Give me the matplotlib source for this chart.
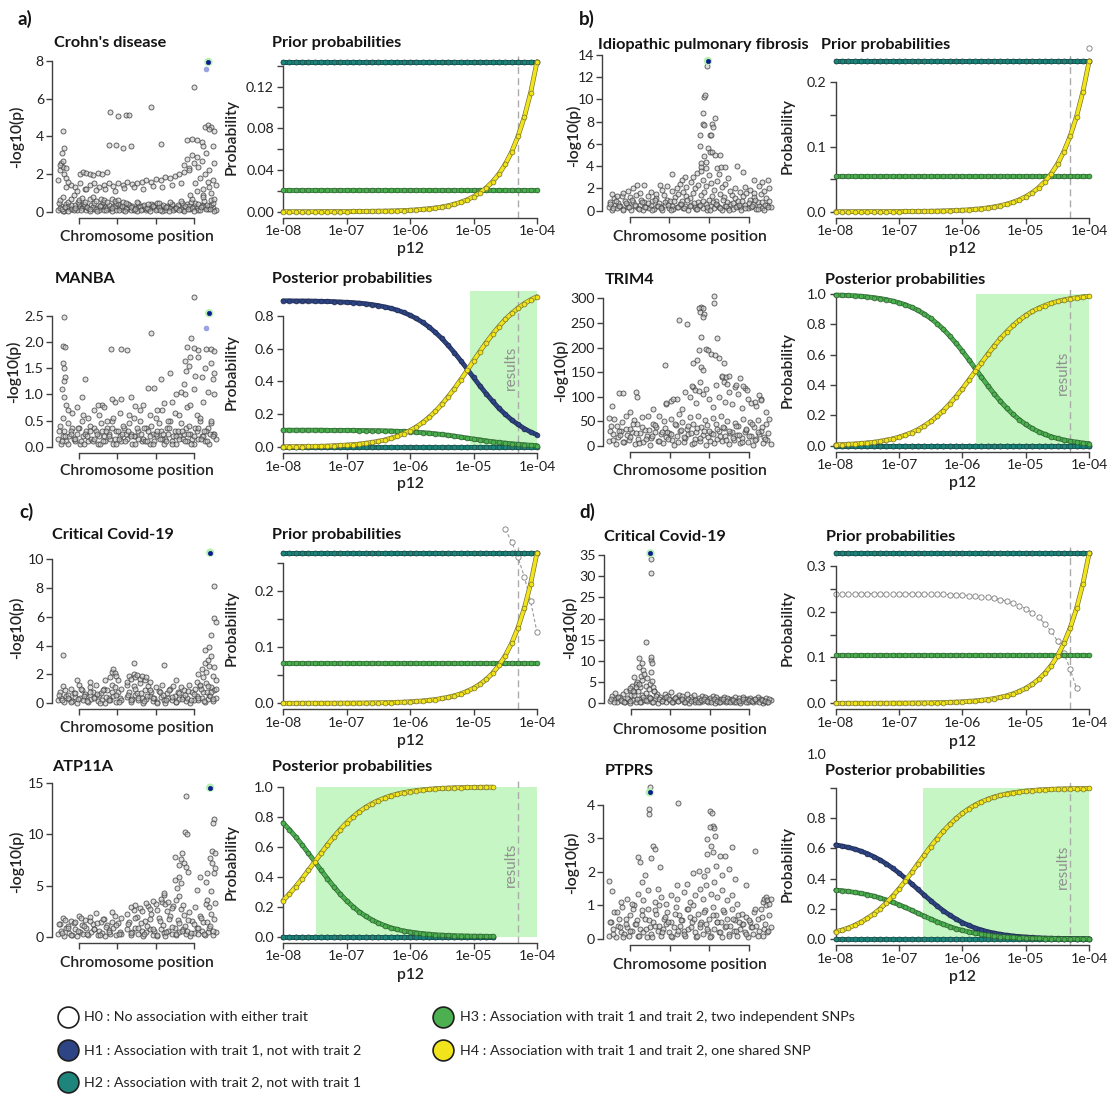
import numpy as np
import matplotlib
matplotlib.use("Agg")
import matplotlib.pyplot as plt
from matplotlib import font_manager
from matplotlib.patches import Rectangle

nan = float("nan")

# ------------------------------------------------------------------ data ----
# p12 values (log10) at which the priors / posteriors are evaluated
LOG_P12 = [-8.0, -7.9, -7.8, -7.7, -7.6, -7.5, -7.4, -7.3, -7.2, -7.1,
           -7.0, -6.9, -6.8, -6.7, -6.6, -6.5, -6.4, -6.3, -6.2, -6.1,
           -6.0, -5.9, -5.8, -5.7, -5.6, -5.5, -5.4, -5.3, -5.2, -5.1,
           -5.0, -4.9, -4.8, -4.7, -4.6, -4.5, -4.4, -4.3, -4.2, -4.1, -4.0]
P12_TICKS = [1e-8, 1e-7, 1e-6, 1e-5, 1e-4]
P12_TICK_LABELS = ["1e-08", "1e-07", "1e-06", "1e-05", "1e-04"]
P12_RESULT = 5e-5

# ---- a) Crohn's disease / MANBA
A_PRIOR_H12 = 0.1438
A_PRIOR_H3 = 0.0207
A_PRIOR_H4 = [0.0000, 0.0000, 0.0000, 0.0000, 0.0000, 0.0000, 0.0001, 0.0001, 0.0001, 0.0001,
              0.0001, 0.0002, 0.0002, 0.0003, 0.0004, 0.0005, 0.0006, 0.0007, 0.0009, 0.0011,
              0.0014, 0.0018, 0.0023, 0.0029, 0.0036, 0.0045, 0.0057, 0.0072, 0.0091, 0.0114,
              0.0144, 0.0181, 0.0228, 0.0287, 0.0361, 0.0455, 0.0572, 0.0721, 0.0907, 0.1142, 0.1438]
A_POST_H1 = [0.892, 0.892, 0.891, 0.891, 0.891, 0.890, 0.889, 0.888, 0.887, 0.885,
             0.883, 0.881, 0.878, 0.874, 0.869, 0.863, 0.855, 0.846, 0.835, 0.821,
             0.804, 0.784, 0.760, 0.732, 0.699, 0.662, 0.620, 0.575, 0.526, 0.476,
             0.424, 0.373, 0.325, 0.279, 0.236, 0.199, 0.165, 0.137, 0.112, 0.091, 0.074]
A_POST_H3 = [0.102, 0.102, 0.102, 0.102, 0.102, 0.102, 0.102, 0.101, 0.101, 0.101,
             0.101, 0.101, 0.100, 0.100, 0.099, 0.099, 0.098, 0.097, 0.095, 0.094,
             0.092, 0.090, 0.087, 0.084, 0.080, 0.076, 0.071, 0.066, 0.060, 0.054,
             0.048, 0.043, 0.037, 0.032, 0.027, 0.023, 0.019, 0.016, 0.013, 0.010, 0.008]
A_POST_H4 = [0.001, 0.001, 0.002, 0.002, 0.003, 0.003, 0.004, 0.005, 0.007, 0.009,
             0.011, 0.014, 0.017, 0.022, 0.027, 0.034, 0.042, 0.053, 0.065, 0.081,
             0.100, 0.122, 0.149, 0.181, 0.217, 0.259, 0.306, 0.356, 0.411, 0.467,
             0.525, 0.582, 0.637, 0.688, 0.735, 0.778, 0.815, 0.847, 0.875, 0.898, 0.917]
A_RESULTS_FROM = -5.06

# ---- b) Idiopathic pulmonary fibrosis / TRIM4
B_PRIOR_H12 = 0.233
B_PRIOR_H3 = 0.0556
B_PRIOR_H4 = [0.0000, 0.0000, 0.0000, 0.0000, 0.0001, 0.0001, 0.0001, 0.0001, 0.0001, 0.0002,
              0.0002, 0.0003, 0.0004, 0.0005, 0.0006, 0.0007, 0.0009, 0.0012, 0.0015, 0.0019,
              0.0023, 0.0029, 0.0037, 0.0046, 0.0059, 0.0074, 0.0093, 0.0117, 0.0147, 0.0185,
              0.0233, 0.0293, 0.0369, 0.0465, 0.0585, 0.0737, 0.0928, 0.1168, 0.1470, 0.1851, 0.2330]
B_PRIOR_H0_LOG = [-4.0]
B_PRIOR_H0 = [0.2525]
B_POST_H3 = [0.992, 0.991, 0.989, 0.987, 0.984, 0.980, 0.975, 0.969, 0.962, 0.952,
             0.941, 0.928, 0.911, 0.891, 0.866, 0.838, 0.804, 0.766, 0.722, 0.674,
             0.622, 0.567, 0.509, 0.452, 0.396, 0.342, 0.292, 0.247, 0.206, 0.171,
             0.140, 0.114, 0.093, 0.075, 0.060, 0.048, 0.038, 0.030, 0.024, 0.018, 0.014]
B_POST_H4 = [0.006, 0.008, 0.010, 0.012, 0.015, 0.019, 0.023, 0.029, 0.037, 0.046,
             0.057, 0.071, 0.087, 0.107, 0.132, 0.160, 0.194, 0.232, 0.276, 0.324,
             0.376, 0.432, 0.489, 0.546, 0.602, 0.656, 0.706, 0.751, 0.792, 0.827,
             0.858, 0.884, 0.905, 0.923, 0.938, 0.950, 0.960, 0.968, 0.974, 0.980, 0.984]
B_RESULTS_FROM = -5.78

# ---- c) Critical Covid-19 / ATP11A
C_PRIOR_H12 = 0.2675
C_PRIOR_H3 = 0.071
C_PRIOR_H4 = [0.0000, 0.0000, 0.0000, 0.0001, 0.0001, 0.0001, 0.0001, 0.0001, 0.0002, 0.0002,
              0.0003, 0.0003, 0.0004, 0.0005, 0.0007, 0.0008, 0.0011, 0.0013, 0.0017, 0.0021,
              0.0027, 0.0034, 0.0042, 0.0053, 0.0067, 0.0085, 0.0106, 0.0134, 0.0169, 0.0212,
              0.0268, 0.0337, 0.0424, 0.0534, 0.0672, 0.0846, 0.1065, 0.1341, 0.1688, 0.2125, 0.2675]
C_PRIOR_H0_LOG = [-4.5, -4.4, -4.3, -4.2, -4.1, -4.0]
C_PRIOR_H0 = [0.309, 0.287, 0.2595, 0.2248, 0.1811, 0.1261]
C_POST_H3 = [0.760, 0.715, 0.666, 0.613, 0.557, 0.500, 0.443, 0.387, 0.334, 0.285,
             0.240, 0.201, 0.166, 0.137, 0.112, 0.091, 0.074, 0.059, 0.048, 0.038,
             0.031, 0.025, 0.020, 0.016, 0.012, 0.010, 0.008, 0.006, 0.005, 0.004,
             0.003, 0.003, 0.002, 0.002, nan, nan, nan, nan, nan, nan, nan]
C_POST_H4 = [0.240, 0.285, 0.334, 0.387, 0.443, 0.500, 0.557, 0.613, 0.666, 0.715,
             0.760, 0.799, 0.834, 0.863, 0.888, 0.909, 0.926, 0.941, 0.952, 0.962,
             0.969, 0.975, 0.980, 0.984, 0.988, 0.990, 0.992, 0.994, 0.995, 0.996,
             0.997, 0.997, 0.998, 0.998, nan, nan, nan, nan, nan, nan, nan]
C_RESULTS_FROM = -7.48

# ---- d) Critical Covid-19 / PTPRS
D_PRIOR_H12 = 0.3277
D_PRIOR_H3 = 0.1055
D_PRIOR_H4 = [0.0000, 0.0000, 0.0001, 0.0001, 0.0001, 0.0001, 0.0001, 0.0002, 0.0002, 0.0003,
              0.0003, 0.0004, 0.0005, 0.0007, 0.0008, 0.0010, 0.0013, 0.0016, 0.0021, 0.0026,
              0.0033, 0.0041, 0.0052, 0.0065, 0.0082, 0.0104, 0.0130, 0.0164, 0.0207, 0.0260,
              0.0328, 0.0413, 0.0519, 0.0654, 0.0823, 0.1036, 0.1305, 0.1642, 0.2068, 0.2603, 0.3277]
D_PRIOR_H0 = [0.2391, 0.2391, 0.2391, 0.2390, 0.2390, 0.2390, 0.2390, 0.2389, 0.2389, 0.2388,
              0.2388, 0.2387, 0.2386, 0.2384, 0.2383, 0.2381, 0.2378, 0.2375, 0.2370, 0.2365,
              0.2358, 0.2350, 0.2339, 0.2326, 0.2309, 0.2287, 0.2261, 0.2227, 0.2184, 0.2131,
              0.2063, 0.1978, 0.1872, 0.1737, 0.1568, 0.1355, 0.1086, 0.0749, 0.0323, nan, nan]
D_POST_H1 = [0.624, 0.616, 0.607, 0.596, 0.582, 0.566, 0.546, 0.524, 0.498, 0.469,
             0.437, 0.402, 0.365, 0.328, 0.290, 0.254, 0.219, 0.187, 0.158, 0.132,
             0.109, 0.090, 0.073, 0.060, 0.048, 0.039, 0.031, 0.025, 0.020, 0.016,
             0.013, 0.010, 0.008, 0.006, 0.005, 0.004, 0.003, 0.003, 0.002, 0.002, 0.001]
D_POST_H3 = [0.324, 0.320, 0.315, 0.309, 0.302, 0.294, 0.284, 0.272, 0.258, 0.243,
             0.227, 0.209, 0.190, 0.170, 0.151, 0.132, 0.114, 0.097, 0.082, 0.068,
             0.057, 0.047, 0.038, 0.031, 0.025, 0.020, 0.016, 0.013, 0.010, 0.008,
             0.007, 0.005, 0.004, 0.003, 0.003, 0.002, 0.002, 0.001, 0.001, 0.001, 0.001]
D_POST_H4 = [0.048, 0.059, 0.073, 0.091, 0.112, 0.137, 0.166, 0.200, 0.240, 0.284,
             0.333, 0.386, 0.442, 0.500, 0.557, 0.613, 0.666, 0.715, 0.759, 0.799,
             0.833, 0.863, 0.888, 0.909, 0.926, 0.941, 0.952, 0.962, 0.969, 0.975,
             0.980, 0.984, 0.988, 0.990, 0.992, 0.994, 0.995, 0.996, 0.997, 0.997, 0.998]
D_RESULTS_FROM = -6.63

# ---- regional association points: (position along window 0-100, -log10 p)
CHR_TICKS = [13, 37.5, 62, 86.5]

A1_SNPS = [
    (0,.1),(2,.3),(4,.05),(5,.4),(7,.2),(9,.15),(11,.35),(12,.1),(14,.25),(16,.3),(18,.1),(19,.2),(21,.35),(23,.15),(25,.2),(26,.1),(28,.3),(30,.25),(32,.15),(33,.2),(35,.3),(37,.1),(39,.25),(40,.2),(42,.3),(44,.15),(46,.1),(47,.3),(49,.2),(51,.25),(53,.15),(54,.3),(56,.1),(58,.2),(60,.35),(61,.25),(63,.15),(65,.3),(67,.2),(68,.1),(70,.25),(72,.35),(74,.15),(75,.2),(77,.3),(79,.1),(81,.25),(82,.4),(84,.15),(86,.3),(88,.2),(89,.1),(91,.35),(93,.25),(95,.15),(96,.3),(98,.2),(100,.1),
    (1,.2),(3,.05),(6,.3),(8,.15),(10,.1),(13,.4),(15,.2),(17,.3),(20,.05),(22,.25),(24,.15),(27,.35),(29,.1),(31,.2),(34,.05),(36,.3),(38,.4),(41,.1),(43,.2),(45,.35),(48,.1),(50,.05),(52,.3),(55,.2),(57,.15),(59,.4),(62,.1),(64,.25),(66,.05),(69,.3),(71,.2),(73,.1),(76,.35),(78,.15),(80,.05),(83,.3),(85,.2),(87,.45),(90,.1),(92,.3),(94,.15),(97,.35),(99,.05),
    (0.5,.45),(2.5,.15),(4.5,.25),(6.5,.05),(8.5,.35),(10.5,.2),(12.5,.5),(14.5,.1),(16.5,.4),(18.5,.25),(20.5,.15),(22.5,.45),(24.5,.05),(26.5,.3),(28.5,.5),(30.5,.1),(32.5,.35),(34.5,.2),(36.5,.45),(38.5,.1),(40.5,.3),(42.5,.05),(44.5,.4),(46.5,.25),(48.5,.15),(50.5,.45),(52.5,.1),(54.5,.35),(56.5,.2),(58.5,.05),(60.5,.3),(62.5,.45),(64.5,.1),(66.5,.35),(68.5,.25),(70.5,.05),(72.5,.4),(74.5,.2),(76.5,.1),(78.5,.45),(80.5,.3),(82.5,.15),(84.5,.5),(86.5,.05),(88.5,.4),(90.5,.25),(92.5,.55),(94.5,.35),(96.5,.15),(98.5,.45),
    (1,.6),(3,.8),(6,.5),(8,.7),(10,.9),(13,.6),(15,.75),(17,.5),(20,.65),(22,.8),(24,.55),(27,.7),(29,.6),(31,.5),(34,.65),(36,.55),(38,.6),(41,.5),(43,.45),(50,.5),(57,.4),(64,.45),(71,.5),(78,.55),(85,.7),(92,.9),(97,.6),
    (5,1.3),(8,1.4),(11,1.3),(14,1.5),(17,1.2),(20,1.4),(23,1.5),(26,1.3),(29,1.4),(32,1.5),(35,1.35),(38,1.5),(41,1.4),(44,1.6),(47,1.45),(50,1.5),(53,1.6),(56,1.7),(59,1.6),(62,1.75),(65,1.7),(68,1.85),(71,1.8),(74,1.9),(77,2.0),(80,2.1),(83,2.3),
    (12,1.1),(18,1.2),(24,1.15),(30,1.2),(36,1.1),(42,1.25),(48,1.3),(54,1.2),(60,1.35),(66,1.3),(72,1.4),(78,1.5),
    (14,2.0),(16,2.1),(18,2.05),(20,2.0),(22,1.95),(25,2.05),(28,2.0),(31,2.1),
    (0,1.7),(1,2.2),(2,2.6),(3,2.4),(4,2.0),(5,1.8),(6,1.6),(1,2.5),(3,2.7),(5,2.3),
    (80,2.5),(82,2.8),(83,2.2),(85,3.0),(86,2.6),(87,1.5),(88,2.9),(89,2.4),(90,1.8),(91,2.7),(92,1.2),(93,2.0),(94,3.1),(95,1.6),(96,2.2),(97,1.0),(98,1.7),(99,2.6),(100,1.4),(84,.9),(88,1.1),(92,.8),(96,1.3),(99,.7),
    (3,4.3),(4,3.4),(2.5,3.1),(33,5.3),(38,5.1),(43,5.15),(45,5.15),(59,5.55),(32,3.55),(37,3.55),(41,3.4),(46,3.5),(65,3.6),(86,6.6),(82,3.8),(85,3.85),(88,3.8),(91,3.7),(93,4.5),(95,4.6),(97,4.5),(99,4.3),(92,3.5),(96,4.4),(98,3.5),
]
A1_PROXY = [(94, 7.6)]
A1_LEAD = (95.4, 7.95)

A2_SNPS = [
    (0,.15),(2,.05),(4,.3),(5,.1),(7,.2),(9,.35),(11,.1),(12,.25),(14,.05),(16,.2),(18,.3),(19,.1),(21,.15),(23,.35),(25,.05),(26,.2),(28,.3),(30,.1),(32,.25),(33,.15),(35,.05),(37,.3),(39,.2),(40,.1),(42,.35),(44,.15),(46,.25),(47,.05),(49,.2),(51,.3),(53,.1),(54,.15),(56,.35),(58,.05),(60,.25),(61,.1),(63,.2),(65,.3),(67,.05),(68,.15),(70,.25),(72,.1),(74,.3),(75,.05),(77,.2),(79,.15),(81,.35),(82,.1),(84,.25),(86,.05),(88,.3),(89,.15),(91,.2),(93,.1),(95,.35),(96,.05),(98,.25),(100,.15),
    (1,.4),(3,.2),(6,.45),(8,.3),(10,.15),(13,.35),(15,.5),(17,.25),(20,.4),(22,.1),(24,.3),(27,.45),(29,.2),(31,.35),(34,.5),(36,.15),(38,.3),(41,.4),(43,.25),(45,.45),(48,.2),(50,.35),(52,.5),(55,.1),(57,.3),(59,.4),(62,.25),(64,.45),(66,.15),(69,.35),(71,.5),(73,.2),(76,.3),(78,.45),(80,.25),(83,.4),(85,.15),(87,.35),(90,.5),(92,.2),(94,.3),(97,.45),(99,.25),
    (0.5,.3),(2.5,.1),(4.5,.2),(6.5,.05),(8.5,.25),(10.5,.15),(12.5,.35),(14.5,.1),(16.5,.05),(18.5,.2),(20.5,.3),(22.5,.15),(24.5,.25),(26.5,.05),(28.5,.1),(30.5,.3),(32.5,.2),(34.5,.35),(36.5,.05),(38.5,.15),(40.5,.25),(42.5,.1),(44.5,.3),(46.5,.2),(48.5,.05),(50.5,.15),(52.5,.25),(54.5,.35),(56.5,.1),(58.5,.2),(60.5,.05),(62.5,.3),(64.5,.15),(66.5,.25),(68.5,.1),(70.5,.35),(72.5,.05),(74.5,.2),(76.5,.15),(78.5,.3),(80.5,.1),(82.5,.25),(84.5,.05),(86.5,.2),(88.5,.35),(90.5,.15),(92.5,.3),(94.5,.1),(96.5,.25),(98.5,.2),
    (6,.7),(9,.65),(12,.75),(16,.6),(19,.55),(23,.7),(26,.6),(28,.8),(31,.5),(35,.55),(39,.65),(45,.6),(48,.55),(52,.7),(58,.6),(62,.55),(66,.7),(70,.5),(74,.65),(77,.6),(82,.75),(88,.6),
    (15,.95),(17,1.3),(25,.8),(29,.75),(36,.85),(34,.92),(40,.92),(46,.95),(49,.78),(54,.8),(57,1.13),(61,1.13),(63,.7),(67,.83),(72,.85),(75,1.0),(78,1.05),
    (3.9,2.47),(2.8,1.93),(4.3,1.9),(3,1.6),(4,1.5),(4.5,1.33),(4,1.26),(2.3,1.1),(3.5,.95),(4.8,.8),(3,.55),
    (33.4,1.86),(39.7,1.86),(44,1.85),(58.9,2.18),(65,1.3),(71,1.4),
    (86.3,2.86),(84.5,2.07),(82,1.9),(86,1.88),(89,1.85),(94,1.87),(97,1.86),(99,1.83),(80.6,1.63),(84,1.72),(89,1.72),(97,1.6),(99,1.4),(98,1.3),(91,1.33),(81,1.45),(80,1.2),(80.6,1.0),(86,1.1),(95,1.05),(99,1.0),(84,.8),(92,.85),(97,.5),(90,.55),(83,1.55),(93,1.5),(87,1.35),
]
A2_PROXY = [(94, 2.27)]
A2_LEAD = (95.9, 2.55)

B1_SNPS = [
    (0,.3),(2,.1),(4,.5),(5,.2),(7,.4),(9,.15),(11,.6),(12,.3),(14,.1),(16,.45),(18,.25),(19,.55),(21,.1),(23,.35),(25,.2),(26,.5),(28,.15),(30,.4),(32,.3),(33,.1),(35,.55),(37,.25),(39,.45),(40,.15),(42,.35),(44,.6),(46,.2),(47,.4),(49,.1),(51,.5),(53,.3),(54,.15),(56,.45),(58,.25),(60,.6),(61,.1),(63,.4),(65,.2),(67,.55),(68,.3),(70,.1),(72,.45),(74,.25),(75,.6),(77,.15),(79,.4),(81,.3),(82,.1),(84,.5),(86,.2),(88,.35),(89,.6),(91,.15),(93,.45),(95,.25),(96,.1),(98,.5),(100,.3),
    (1,.8),(3,1.1),(6,.7),(8,1.3),(10,.9),(13,1.2),(15,.75),(17,1.4),(20,1.0),(22,.8),(24,1.3),(27,.9),(29,1.1),(31,.7),(34,1.4),(36,1.0),(38,.85),(41,1.2),(43,1.5),(45,.9),(48,1.3),(50,1.1),(52,1.6),(55,.8),(57,1.4),(59,1.7),(62,1.0),(64,1.3),(66,.9),(69,1.5),(71,1.2),(73,.8),(76,1.4),(78,1.1),(80,.9),(83,1.3),(85,1.6),(87,1.0),(90,1.2),(92,.8),(94,1.5),(97,1.1),(99,.9),
    (0.5,.6),(2.5,.2),(4.5,.9),(6.5,.4),(8.5,.1),(10.5,.7),(12.5,.3),(14.5,1.0),(16.5,.5),(18.5,.15),(20.5,.8),(22.5,.35),(24.5,.65),(26.5,.05),(28.5,.95),(30.5,.45),(32.5,.25),(34.5,.75),(36.5,.55),(38.5,.1),(40.5,.85),(42.5,.3),(44.5,.6),(46.5,.2),(48.5,1.0),(50.5,.4),(52.5,.7),(54.5,.15),(56.5,.5),(58.5,.9),(60.5,.35),(62.5,.05),(64.5,.8),(66.5,.6),(68.5,.25),(70.5,.95),(72.5,.45),(74.5,.1),(76.5,.7),(78.5,.3),(80.5,.55),(82.5,.85),(84.5,.2),(86.5,.65),(88.5,.4),(90.5,1.0),(92.5,.15),(94.5,.75),(96.5,.5),(98.5,.3),
    (2,1.5),(5,1.3),(9,1.6),(12,1.8),(15,2.0),(19,1.6),(22,2.3),(26,1.7),(29,1.5),(33,1.9),(36,2.2),(39,1.8),(42,2.0),(44,2.4),(46,1.7),(48,2.1),(51,2.6),(53,2.0),(55,2.3),(58,2.8),(60,2.2),(63,2.5),(65,1.9),(67,2.7),(70,2.1),(72,2.4),(75,1.8),(78,2.0),(81,1.7),(84,2.1),(87,1.9),(90,1.6),(93,2.2),(96,1.8),(99,2.0),
    (58.7,10.25),(59.2,10.4),(58.2,8.8),(58.5,7.8),(58.9,7.7),(65.6,8.3),(63.9,7.8),(64.6,7.55),(56.5,6.8),(62.3,6.8),(63.4,6.8),(56.3,5.8),(61.3,5.6),(62.3,5.3),(63.9,5.3),(65.6,5.0),(68.9,5.0),(58.7,4.9),(56.9,4.27),(56.9,3.97),
    (39,3.3),(47.3,3.06),(54.7,3.36),(60.2,3.81),(66.7,3.81),(69.5,3.96),(72.1,3.96),(79.3,4.05),(83,3.5),(89.5,2.76),(94.9,2.61),(98.2,2.76),(17.3,2.3),(31.9,2.3),
    (52,3.0),(62,3.2),(68,3.3),(57,3.6),(74,2.9),(45,2.8),(60,4.4),(60.5,13.0),
]
B1_PROXY = []
B1_LEAD = (61.3, 13.46)

B2_SNPS = [
    (0,10),(2,25),(4,5),(5,18),(7,30),(9,8),(11,22),(12,12),(14,28),(16,4),(18,15),(19,26),(21,9),(23,20),(25,3),(26,17),(28,29),(30,11),(32,24),(33,6),(35,19),(37,27),(39,13),(40,2),(42,21),(44,30),(46,8),(47,16),(49,25),(51,5),(53,14),(54,28),(56,10),(58,22),(60,3),(61,18),(63,26),(65,7),(67,15),(68,30),(70,11),(72,20),(74,4),(75,27),(77,13),(79,23),(81,6),(82,17),(84,29),(86,9),(88,21),(89,3),(91,14),(93,25),(95,7),(96,19),(98,12),(100,4),
    (1,40),(3,55),(6,30),(8,48),(10,62),(13,35),(15,52),(17,44),(20,58),(22,33),(24,60),(27,45),(29,38),(31,62),(34,50),(36,28),(38,55),(41,42),(43,65),(45,48),(48,35),(50,58),(52,45),(55,62),(57,38),(59,52),(62,30),(64,57),(66,44),(69,60),(71,36),(73,50),(76,28),(78,47),(80,40),(83,55),(85,33),(87,48),(90,38),(92,52),(94,30),(97,45),(99,55),
    (0.5,30),(2.5,12),(4.5,40),(6.5,22),(8.5,8),(10.5,35),(12.5,18),(14.5,44),(16.5,26),(18.5,6),(20.5,38),(22.5,15),(24.5,32),(26.5,20),(28.5,42),(30.5,10),(32.5,28),(34.5,36),(36.5,14),(38.5,24),(40.5,45),(42.5,9),(44.5,33),(46.5,19),(48.5,40),(50.5,27),(52.5,7),(54.5,37),(56.5,16),(58.5,30),(60.5,43),(62.5,11),(64.5,25),(66.5,35),(68.5,21),(70.5,39),(72.5,13),(74.5,31),(76.5,17),(78.5,41),(80.5,23),(82.5,8),(84.5,34),(86.5,20),(88.5,44),(90.5,12),(92.5,29),(94.5,38),(96.5,15),(98.5,26),
    (13,70),(27,75),(35,85),(38,92),(42,95),(45,75),(47,110),(50,100),(52,120),(54,88),(56,130),(58,105),(60,115),(62,95),(64,80),(66,125),(68,100),(70,140),(72,90),(74,110),(76,85),(78,120),(80,105),(82,78),(84,118),(86,95),(88,88),(91,82),(94,95),(97,70),
    (64.8,305),(65,290),(56.7,283),(55.6,280),(57.8,281),(56.3,272),(58.9,268),(57.8,262),(43.1,256),(47.9,248),(56.7,222),(66.5,220),
    (55.6,195),(60,198),(61.1,195),(63.3,188),(65.5,185),(67.7,178),(71,168),(34.5,165),(51.9,168),(54.5,174),(56.7,161),(57.8,154),
    (69.9,142),(72.1,141),(74.3,142),(71,131),(73.2,127),(80.9,138),(78.7,124),(83.1,121),(85.3,114),(51.2,121),(53.4,114),(55.6,111),
    (0,57),(1.6,81),(6,108),(8.6,108),(16.3,109),(17.4,100),(34.9,88),(39.3,95),(92.8,104),(90.6,90),(93.9,94),
]
B2_PROXY = []
B2_LEAD = None

C1_SNPS = [
    (0,.2),(2,.4),(4,.1),(5,.5),(7,.3),(9,.15),(11,.45),(12,.05),(14,.35),(16,.2),(18,.5),(19,.1),(21,.3),(23,.45),(25,.15),(26,.55),(28,.25),(30,.05),(32,.4),(33,.2),(35,.5),(37,.1),(39,.35),(40,.2),(44,.45),(46,.1),(47,.3),(49,.55),(51,.2),(53,.4),(54,.05),(56,.3),(58,.5),(60,.15),(61,.35),(63,.1),(65,.45),(67,.25),(68,.05),(70,.4),(72,.2),(74,.5),(75,.1),(77,.3),(79,.45),(81,.15),(82,.35),(84,.05),(86,.25),(88,.5),(89,.2),(91,.4),(93,.1),(95,.3),(96,.55),(98,.15),(100,.35),
    (1,.8),(3,1.2),(6,.6),(8,1.0),(10,.7),(13,1.3),(15,.9),(17,.65),(20,1.1),(22,.8),(24,1.25),(27,.7),(29,1.0),(31,.9),(34,1.3),(36,1.1),(38,.75),(40,1.0),(44,1.3),(45,.8),(48,1.2),(50,.7),(52,1.4),(55,.9),(57,1.2),(59,.75),(62,1.1),(64,.85),(66,1.25),(69,.7),(71,1.0),(73,1.2),(76,.8),(78,1.1),(80,.9),(83,1.3),(85,.75),(87,1.0),(90,1.2),(92,.8),(94,1.4),(97,1.1),(99,.9),
    (0.5,.6),(2.5,.2),(4.5,.9),(6.5,.4),(8.5,.1),(10.5,.7),(12.5,.3),(14.5,1.0),(16.5,.5),(18.5,.15),(20.5,.8),(22.5,.35),(24.5,.65),(26.5,.05),(28.5,.95),(30.5,.45),(32.5,.25),(34.5,.75),(36.5,.55),(38.5,.1),(44.5,.6),(46.5,.2),(48.5,1.0),(50.5,.4),(52.5,.7),(54.5,.15),(56.5,.5),(58.5,.9),(60.5,.35),(62.5,.05),(64.5,.8),(66.5,.6),(68.5,.25),(70.5,.95),(72.5,.45),(74.5,.1),(76.5,.7),(78.5,.3),(80.5,.55),(82.5,.85),(84.5,.2),(86.5,.65),(88.5,.4),(90.5,1.0),(92.5,.15),(94.5,.75),(96.5,.5),(98.5,.3),
    (33,1.8),(34,2.2),(35,2.4),(36,2.1),(37,1.9),(38,1.6),(44,1.5),(45,1.9),(46,1.7),(48,2.0),(49,1.8),(50,1.95),(52,1.7),(53,1.9),(55,1.6),(56,1.8),(58,1.5),(30,1.6),
    (2.8,3.35),(48.2,2.77),(67,2.65),(12,1.6),(20,1.5),(75,1.6),
    (88,1.5),(89,2.0),(90,1.3),(91,2.4),(92,1.8),(93,2.8),(94,2.2),(95,3.0),(96,2.6),(97,3.3),(98,1.9),(99,2.5),(100,1.6),(93,3.7),(96,3.9),(97,4.7),(99,5.9),(100,5.6),(99.2,8.13),(95,1.2),(97,.8),(100,1.0),
]
C1_PROXY = []
C1_LEAD = (96.5, 10.44)

C2_SNPS = [
    (0,.3),(2,.6),(4,.1),(5,.8),(7,.4),(9,.2),(11,.7),(12,.1),(14,.5),(16,.3),(18,.8),(19,.15),(21,.45),(23,.7),(25,.2),(26,.6),(28,.35),(30,.1),(32,.65),(33,.25),(35,.8),(37,.15),(39,.5),(40,.3),(44,.7),(46,.15),(47,.45),(49,.8),(51,.3),(53,.6),(54,.1),(56,.5),(58,.75),(60,.2),(61,.55),(63,.1),(65,.7),(67,.35),(68,.05),(70,.6),(72,.3),(74,.8),(75,.15),(77,.5),(79,.7),(81,.25),(82,.55),(84,.1),(86,.4),(88,.8),(89,.3),(91,.6),(93,.15),(95,.45),(96,.8),(98,.2),(100,.5),
    (1,1.2),(3,1.8),(6,1.0),(8,1.5),(10,1.3),(13,2.0),(15,1.1),(17,1.6),(20,1.9),(22,1.2),(24,2.3),(27,1.4),(29,1.7),(31,1.1),(34,2.4),(36,2.0),(38,1.3),(40,1.8),(44,2.2),(45,1.4),(48,2.6),(50,1.9),(52,2.8),(55,1.5),(57,3.0),(59,2.2),(62,3.2),(64,1.8),(66,3.4),(69,2.5),(71,2.0),(73,3.0),(76,1.6),(78,2.7),(80,2.1),(83,2.4),(85,1.5),(87,2.9),(90,2.0),(92,1.4),(94,3.2),(97,2.2),(99,1.7),
    (0.5,1.2),(2.5,.4),(4.5,1.6),(6.5,.8),(8.5,.2),(10.5,1.4),(12.5,.6),(14.5,1.8),(16.5,1.0),(18.5,.3),(20.5,1.5),(22.5,.7),(24.5,1.3),(26.5,.2),(28.5,1.7),(30.5,.9),(32.5,.5),(34.5,1.4),(36.5,1.1),(38.5,.3),(44.5,1.2),(46.5,.4),(48.5,1.8),(50.5,.8),(52.5,1.3),(54.5,.3),(56.5,1.0),(58.5,1.7),(60.5,.7),(62.5,.2),(64.5,1.5),(66.5,1.1),(68.5,.5),(70.5,1.7),(72.5,.9),(74.5,.3),(76.5,1.3),(78.5,.6),(80.5,1.0),(82.5,1.6),(84.5,.4),(86.5,1.2),(88.5,.8),(90.5,1.8),(92.5,.3),(94.5,1.4),(96.5,1.0),(98.5,.6),
    (46,2.9),(49,3.1),(53,2.5),(56,3.3),(58,2.7),(60,3.5),(63,2.6),(65,3.7),(67,4.1),(68,3.2),(70,3.4),(72,2.8),(75,3.6),(77,4.0),(79,3.1),
    (81.1,13.77),(80.6,10.2),(81.8,10.0),(98.8,11.5),(98.1,11.1),(78.8,8.16),(74.3,7.77),(77.7,7.57),(80,7.18),(81.1,6.85),(82.3,6.36),(76.6,7.0),
    (97.7,8.4),(99.4,8.15),(96.3,7.66),(97.7,7.17),(99.8,6.68),(98.8,6.2),(76.6,5.87),(74.3,5.54),(77.7,5.22),(75.5,4.73),
    (87.9,4.57),(90.2,5.87),(93.6,5.38),(94.7,6.2),(67.5,4.24),(99.8,3.26),(94.7,3.59),(97,4.5),(96,2.9),
]
C2_PROXY = []
C2_LEAD = (96.5, 14.58)

D1_SNPS = [
    (0,.5),(2,1.0),(4,.2),(5,1.2),(7,.6),(9,.3),(11,.9),(12,.1),(14,.7),(16,.4),(18,1.1),(19,.2),(21,.8),(23,.5),(25,1.2),(26,.3),(28,.9),(30,.1),(32,.6),(33,1.0),(35,.4),(37,.8),(39,.2),(40,1.1),(42,.5),(44,.9),(46,.3),(47,.7),(49,.1),(51,1.0),(53,.4),(54,.8),(56,.2),(58,.6),(60,1.0),(61,.3),(63,.7),(65,.1),(67,.9),(68,.4),(70,.6),(72,.2),(74,1.0),(75,.5),(77,.3),(79,.8),(81,.1),(82,.6),(84,.9),(86,.3),(88,.7),(89,.2),(91,.5),(93,.9),(95,.1),(96,.6),(98,.4),(100,.8),
    (1,1.8),(3,2.5),(6,1.4),(8,2.2),(10,2.8),(13,1.9),(15,2.6),(17,3.0),(20,2.0),(22,2.4),(24,1.6),(27,2.9),(29,2.1),(31,1.5),(34,2.3),(36,1.8),(38,2.6),(41,1.4),(43,2.0),(45,1.7),(48,2.2),(50,1.5),(52,1.9),(55,1.3),(57,1.8),(59,1.6),(62,1.2),(64,1.7),(66,1.4),(69,1.1),(71,1.6),(73,1.3),(76,1.0),(78,1.5),(80,1.2),(83,1.4),(85,.9),(87,1.3),(90,1.1),(92,1.4),(94,.9),(97,1.2),(99,1.0),
    (0.5,1.0),(2.5,.4),(4.5,1.6),(6.5,.8),(8.5,.2),(10.5,1.3),(12.5,.6),(14.5,1.9),(16.5,1.1),(18.5,.3),(20.5,1.5),(22.5,.7),(24.5,1.2),(26.5,.2),(28.5,1.8),(30.5,.9),(32.5,.5),(34.5,1.4),(36.5,1.0),(38.5,.3),(40.5,1.2),(42.5,.5),(44.5,.9),(46.5,.3),(48.5,1.1),(50.5,.6),(52.5,.8),(54.5,.2),(56.5,.7),(58.5,1.0),(60.5,.5),(62.5,.2),(64.5,.9),(66.5,.6),(68.5,.3),(70.5,1.0),(72.5,.5),(74.5,.2),(76.5,.8),(78.5,.4),(80.5,.6),(82.5,.9),(84.5,.3),(86.5,.7),(88.5,.5),(90.5,1.0),(92.5,.2),(94.5,.8),(96.5,.6),(98.5,.4),
    (25.2,34.0),(25.2,30.8),(22.4,14.5),(25.2,10.2),(26.1,9.4),(25.2,7.5),(25.5,11.0),(18,10.6),(19.6,9.4),(18,8.6),(20.2,7.8),(16.9,5.0),(15.8,4.6),(18.7,3.9),(14.7,6.2),(13.6,4.2),(12.5,3.1),(24.7,4.6),(26.9,3.9),
    (12,3.5),(14,2.8),(16,3.8),(18,4.5),(20,5.5),(22,4.2),(24,3.3),(26,5.2),(27,3.0),(19,6.5),(21,7.0),(23,6.0),
]
D1_PROXY = []
D1_LEAD = (25.0, 35.4)

D2_SNPS = [
    (0,.1),(2,.3),(4,.05),(5,.4),(7,.2),(9,.15),(11,.35),(12,.1),(14,.25),(16,.45),(18,.1),(19,.3),(21,.2),(23,.05),(25,.35),(26,.15),(28,.4),(30,.25),(32,.1),(33,.3),(35,.45),(37,.2),(39,.05),(40,.35),(42,.15),(44,.4),(46,.25),(47,.1),(49,.3),(51,.5),(53,.2),(54,.05),(56,.35),(58,.15),(60,.45),(61,.25),(63,.1),(65,.3),(67,.5),(68,.2),(70,.05),(72,.35),(74,.15),(75,.4),(77,.25),(79,.1),(81,.3),(82,.45),(84,.2),(86,.05),(88,.35),(89,.15),(91,.4),(93,.25),(95,.1),(96,.3),(98,.2),(100,.35),
    (1,.5),(3,.8),(6,.6),(8,.95),(10,.45),(13,.7),(15,1.0),(17,.55),(20,.85),(22,.6),(24,.9),(27,.5),(29,.75),(31,1.0),(34,.6),(36,.8),(38,.5),(41,.95),(43,.7),(45,.55),(48,.9),(50,.65),(52,1.0),(55,.75),(57,.5),(59,.85),(62,.6),(64,.95),(66,.7),(69,.5),(71,.8),(73,.6),(76,.9),(78,.55),(80,.7),(83,.45),(85,.65),(87,.5),(90,.8),(92,.6),(94,.9),(97,1.0),(99,.7),
    (0.5,.5),(2.5,.15),(4.5,.8),(6.5,.35),(8.5,.05),(10.5,.6),(12.5,.25),(14.5,.9),(16.5,.45),(18.5,.1),(20.5,.7),(22.5,.3),(24.5,.55),(26.5,.05),(28.5,.85),(30.5,.4),(32.5,.2),(34.5,.65),(36.5,.5),(38.5,.1),(40.5,.75),(42.5,.25),(44.5,.55),(46.5,.15),(48.5,.9),(50.5,.35),(52.5,.6),(54.5,.1),(56.5,.45),(58.5,.8),(60.5,.3),(62.5,.05),(64.5,.7),(66.5,.5),(68.5,.2),(70.5,.85),(72.5,.4),(74.5,.1),(76.5,.6),(78.5,.25),(80.5,.5),(82.5,.75),(84.5,.15),(86.5,.55),(88.5,.35),(90.5,.9),(92.5,.1),(94.5,.65),(96.5,.45),(98.5,.25),
    (7,1.1),(11,1.2),(14,1.05),(18,1.35),(21,1.15),(24,1.45),(28,1.1),(32,1.25),(35,1.05),(38,1.3),(42,1.2),(46,1.4),(50,1.1),(53,1.3),(56,1.5),(58,1.2),(60,1.6),(63,1.35),(65,1.7),(67,1.25),(70,1.45),(73,1.15),(76,1.3),(79,1.05),(95,1.1),(96,1.2),(97,1.25),(98,1.15),(99,1.05),(100,1.2),
    (25.2,4.55),(24.6,3.87),(24.6,3.73),(42.8,4.05),(62.6,3.83),(63.5,3.77),(64.1,3.38),(65.2,3.32),(62.6,3.35),(65.6,3.08),(60.8,2.99),(63,2.79),
    (26.8,2.79),(28.3,2.69),(18,2.44),(19.1,2.29),(25.7,2.42),(31.4,2.16),(75.8,2.74),(71.9,2.49),(68.6,2.49),(90.1,2.64),
    (0,1.72),(1.3,1.42),(42.1,1.62),(58.6,1.87),(52,1.97),(55.3,2.02),(60.8,2.07),(66.3,2.17),(60.8,2.54),(64.1,2.59),
    (20,1.7),(22,1.9),(30,1.5),(48,1.65),(70,1.9),(74,2.1),(78,1.8),(85,1.6),
]
D2_PROXY = []
D2_LEAD = (25.0, 4.38)

HYPOTHESES = [
    "H0 : No association with either trait",
    "H1 : Association with trait 1, not with trait 2",
    "H2 : Association with trait 2, not with trait 1",
    "H3 : Association with trait 1 and trait 2, two independent SNPs",
    "H4 : Association with trait 1 and trait 2, one shared SNP",
]

# --------------------------------------------------------------- styling ----
H_FILL = ["#ffffff", "#2e4585", "#1d857b", "#4caf50", "#f2e41c"]
H_EDGE = ["#777777", "#1f2a4d", "#174a45", "#2a5e2c", "#6d6a2a"]
AX_COL = "#404040"
TXT_COL = "#222222"
RESULT_FILL = "#c6f6c4"

def has_font(name):
    try:
        font_manager.findfont(name, fallback_to_default=False)
        return True
    except Exception:
        return False

BASE_FONT = "Lato" if has_font("Lato") else "DejaVu Sans"
plt.rcParams["font.family"] = [BASE_FONT, "DejaVu Sans"]

W, H = 1112, 1095
DPI = 100
fig = plt.figure(figsize=(W / DPI, H / DPI), dpi=DPI)
fig.patch.set_facecolor("white")

ov = fig.add_axes([0, 0, 1, 1])
ov.set_xlim(0, W)
ov.set_ylim(H, 0)
ov.axis("off")


def px_axes(rect):
    l, t, r, b = rect
    ax = fig.add_axes([l / W, 1 - b / H, (r - l) / W, (b - t) / H])
    ax.patch.set_alpha(0)
    return ax


def style_axes(ax, xb, yb):
    for s in ("top", "right"):
        ax.spines[s].set_visible(False)
    for s in ("left", "bottom"):
        ax.spines[s].set_color(AX_COL)
        ax.spines[s].set_linewidth(1.0)
    ax.spines["left"].set_bounds(*yb)
    ax.spines["bottom"].set_bounds(*xb)
    ax.tick_params(which="major", direction="out", length=4.5, width=1.0,
                   color=AX_COL, labelsize=10.2, labelcolor=TXT_COL, pad=2)
    ax.tick_params(which="minor", length=0)


def manhattan(rect, snps, lead, proxies, yticks, ylabels):
    ax = px_axes(rect)
    x = [p[0] for p in snps]
    y = [p[1] for p in snps]
    ax.scatter(x, y, s=13, facecolor=(0.78, 0.78, 0.78, 0.55),
               edgecolor=(0.26, 0.26, 0.26, 0.85), linewidths=0.65, zorder=2, clip_on=False)
    ymax = max(y)
    for px_, py_ in proxies:
        ax.scatter([px_], [py_], s=12, facecolor="#9aa4e6", edgecolor="#8d97da",
                   linewidths=0.5, zorder=3, clip_on=False)
        ymax = max(ymax, py_)
    if lead is not None:
        ax.scatter([lead[0]], [lead[1]], s=36, facecolor="#b4f0b0", edgecolor="none",
                   zorder=4, clip_on=False)
        ax.scatter([lead[0]], [lead[1]], s=10, facecolor="#0b1c8f", edgecolor="#0b1c8f",
                   linewidths=0.4, zorder=5, clip_on=False)
        ymax = max(ymax, lead[1])
    ax.set_xlim(-4, 104)
    ax.set_ylim(-0.04 * ymax, 1.04 * ymax)
    ax.set_xticks(CHR_TICKS)
    ax.set_xticklabels([])
    ax.set_yticks(yticks)
    ax.set_yticklabels(ylabels)
    style_axes(ax, (CHR_TICKS[0], CHR_TICKS[-1]), (yticks[0], yticks[-1]))
    ax.tick_params(axis="y", pad=1.2)
    return ax


def chain(ax, x, y, h, z, lw=2.5, ms=3.5):
    ax.plot(x, y, color=H_EDGE[h], lw=lw + 0.9, solid_capstyle="round", zorder=z, clip_on=False)
    ax.plot(x, y, color=H_FILL[h], lw=lw, solid_capstyle="round", zorder=z + 0.01, clip_on=False)
    ax.plot(x, y, ls="none", marker="o", ms=ms, mfc=H_FILL[h], mec=H_EDGE[h], mew=0.45,
            zorder=z + 0.02, clip_on=False)


def rings(ax, x, y, z):
    ax.plot(x, y, color="#9a9a9a", lw=0.8, ls=(0, (3, 2)), zorder=z, clip_on=False)
    ax.plot(x, y, ls="none", marker="o", ms=3.8, mfc="white", mec="#7a7a7a", mew=0.6,
            zorder=z + 0.01, clip_on=False)


def prob_panel(rect, curves, h0, yticks, ylabels, results_from=None):
    """curves: list of (hypothesis index, values on LOG_P12); h0: (log p12, values) or None."""
    ax = px_axes(rect)
    ax.set_xscale("log")
    p12 = 10 ** np.array(LOG_P12)
    hi = 0.0
    for h, vals in curves:
        v = np.asarray(vals, float)
        hi = max(hi, np.nanmax(v))
    ax.set_xlim(1e-8, 1e-4)
    ax.set_ylim(-0.04 * hi, 1.04 * hi)
    if results_from is not None:
        ax.add_patch(Rectangle((10 ** results_from, 0), 1e-4 - 10 ** results_from, 1.0,
                               facecolor=RESULT_FILL, edgecolor="none", zorder=0.5))
        ax.text(P12_RESULT * 10 ** (-7 / 63.5), 0.48, "results", rotation=90, ha="center",
                va="center", color="#8f8f8f", fontsize=11, zorder=1.2)
    ax.axvline(P12_RESULT, color="#ababab", lw=1.0, ls=(0, (5, 3)), zorder=1)
    if h0 is not None:
        rings(ax, 10 ** np.array(h0[0]), h0[1], 2)
    for i, (h, vals) in enumerate(curves):
        chain(ax, p12, np.asarray(vals, float), h, 3 + i)
    ax.set_xticks(P12_TICKS)
    ax.set_xticklabels(P12_TICK_LABELS)
    ax.xaxis.set_minor_locator(matplotlib.ticker.NullLocator())
    ax.set_yticks(yticks)
    ax.set_yticklabels(ylabels)
    style_axes(ax, (1e-8, 1e-4), (yticks[0], yticks[-1]))
    ax.tick_params(axis="x", pad=1)
    return ax


def const(v, like=None):
    base = np.full(len(LOG_P12), float(v))
    if like is not None:
        base[np.isnan(np.asarray(like, float))] = np.nan
    return base


def title(x, y, s):
    ov.text(x, y, s, ha="left", va="center", fontsize=11.7, fontweight="bold", color="#141414")


def label(x, y, s, rot=0):
    ov.text(x, y, s, ha="center", va="center", fontsize=11.3, fontweight="semibold",
            color=TXT_COL, rotation=rot)


def fmt(vals, keep, nd):
    return [("%.*f" % (nd, v)) if k else "" for v, k in zip(vals, keep)]


# --------------------------------------------------------------- panels -----
# a)
ov.text(18, 19, "a)", ha="left", va="center", fontsize=13.5, fontweight="bold", color="#141414")
manhattan((51.8, 56, 222, 217.7), A1_SNPS, A1_LEAD, A1_PROXY, [0, 2, 4, 6, 8], ["0", "2", "4", "6", "8"])
prob_panel((283, 55.7, 537, 217.7),
           [(1, const(A_PRIOR_H12)), (2, const(A_PRIOR_H12)), (3, const(A_PRIOR_H3)), (4, A_PRIOR_H4)],
           None, [0, .02, .04, .06, .08, .10, .12, .14],
           fmt([0, .02, .04, .06, .08, .10, .12, .14], [1, 0, 1, 0, 1, 0, 1, 0], 2))
manhattan((51.8, 291, 222, 452.7), A2_SNPS, A2_LEAD, A2_PROXY, [0, .5, 1, 1.5, 2, 2.5],
          ["0.0", "0.5", "1.0", "1.5", "2.0", "2.5"])
prob_panel((283, 290.7, 537, 452.9),
           [(0, const(0)), (1, A_POST_H1), (2, const(0)), (3, A_POST_H3), (4, A_POST_H4)],
           None, [0, .2, .4, .6, .8], ["0.0", "0.2", "0.4", "0.6", "0.8"], A_RESULTS_FROM)

# b)
ov.text(579, 19, "b)", ha="left", va="center", fontsize=13.5, fontweight="bold", color="#141414")
manhattan((602.3, 55, 777, 216.7), B1_SNPS, B1_LEAD, B1_PROXY, list(range(0, 15, 2)),
          [str(v) for v in range(0, 15, 2)])
prob_panel((835.7, 54.9, 1089.2, 217.7),
           [(1, const(B_PRIOR_H12)), (2, const(B_PRIOR_H12)), (3, const(B_PRIOR_H3)), (4, B_PRIOR_H4)],
           (B_PRIOR_H0_LOG, B_PRIOR_H0), [0, .05, .1, .15, .2],
           fmt([0, .05, .1, .15, .2], [1, 0, 1, 0, 1], 1))
manhattan((603, 290, 777, 452), B2_SNPS, B2_LEAD, B2_PROXY, list(range(0, 301, 50)),
          [str(v) for v in range(0, 301, 50)])
prob_panel((835.7, 289, 1089.2, 451.8),
           [(0, const(0)), (1, const(0)), (2, const(0)), (3, B_POST_H3), (4, B_POST_H4)],
           None, [0, .2, .4, .6, .8, 1.0], ["0.0", "0.2", "0.4", "0.6", "0.8", "1.0"], B_RESULTS_FROM)

# c)
ov.text(19.6, 512, "c)", ha="left", va="center", fontsize=13.5, fontweight="bold", color="#141414")
manhattan((51.8, 546.6, 222, 709.3), C1_SNPS, C1_LEAD, C1_PROXY, [0, 2, 4, 6, 8, 10],
          ["0", "2", "4", "6", "8", "10"])
prob_panel((283, 546.7, 537, 709.3),
           [(1, const(C_PRIOR_H12)), (2, const(C_PRIOR_H12)), (3, const(C_PRIOR_H3)), (4, C_PRIOR_H4)],
           (C_PRIOR_H0_LOG, C_PRIOR_H0), [0, .05, .1, .15, .2, .25],
           fmt([0, .05, .1, .15, .2, .25], [1, 0, 1, 0, 1, 0], 1))
manhattan((51.8, 781.7, 222, 942.6), C2_SNPS, C2_LEAD, C2_PROXY, [0, 5, 10, 15], ["0", "5", "10", "15"])
prob_panel((283, 781.2, 537, 942.6),
           [(0, const(0, C_POST_H4)), (1, const(0, C_POST_H4)), (2, const(0, C_POST_H4)),
            (3, C_POST_H3), (4, C_POST_H4)],
           None, [0, .2, .4, .6, .8, 1.0], ["0.0", "0.2", "0.4", "0.6", "0.8", "1.0"], C_RESULTS_FROM)

# d)
ov.text(579, 512, "d)", ha="left", va="center", fontsize=13.5, fontweight="bold", color="#141414")
manhattan((604, 547.4, 777, 709.3), D1_SNPS, D1_LEAD, D1_PROXY, list(range(0, 36, 5)),
          [str(v) for v in range(0, 36, 5)])
prob_panel((835.7, 547, 1089.2, 709.3),
           [(1, const(D_PRIOR_H12)), (2, const(D_PRIOR_H12)), (3, const(D_PRIOR_H3)), (4, D_PRIOR_H4)],
           (LOG_P12, D_PRIOR_H0), [0, .05, .1, .15, .2, .25, .3],
           fmt([0, .05, .1, .15, .2, .25, .3], [1, 0, 1, 0, 1, 0, 1], 1))
manhattan((603, 780.5, 777, 945), D2_SNPS, D2_LEAD, D2_PROXY, [0, 1, 2, 3, 4], ["0", "1", "2", "3", "4"])
axd = prob_panel((835.7, 782.4, 1089.2, 945),
                 [(0, const(0)), (1, D_POST_H1), (2, const(0)), (3, D_POST_H3), (4, D_POST_H4)],
                 None, [0, .2, .4, .6, .8, 1.0], ["0.0", "0.2", "0.4", "0.6", "0.8", ""], D_RESULTS_FROM)
axd.annotate("1.0", xy=(0, 1.0), xycoords=("axes fraction", "data"), xytext=(-9, 33),
             textcoords="offset pixels", ha="right", va="center", fontsize=10.2, color=TXT_COL)

# ---- titles and axis labels
for x, y, s in [(53.6, 43, "Crohn's disease"), (272, 43, "Prior probabilities"),
                (54.6, 279, "MANBA"), (272, 279, "Posterior probabilities"),
                (598, 45, "Idiopathic pulmonary fibrosis"), (821, 45, "Prior probabilities"),
                (605, 280, "TRIM4"), (824.8, 280, "Posterior probabilities"),
                (51.8, 535, "Critical Covid-19"), (272, 535, "Prior probabilities"),
                (51.8, 766.7, "ATP11A"), (272, 766.7, "Posterior probabilities"),
                (604, 536.7, "Critical Covid-19"), (825.8, 536.7, "Prior probabilities"),
                (605, 770.7, "PTPRS"), (824.8, 770.7, "Posterior probabilities")]:
    title(x, y, s)

for x, y in [(17, 137), (14, 372), (574, 136), (561, 371), (17, 628), (17, 862), (570, 628), (572, 863)]:
    label(x, y, "-log10(p)", rot=90)
for x, y in [(232, 137), (232, 372), (788, 136), (788, 370), (232, 628), (232, 862), (788, 628), (788, 864)]:
    label(x, y, "Probability", rot=90)
for x, y in [(137, 236.5), (137, 471.5), (690, 236.5), (690, 471.5),
             (137, 728), (137, 962.5), (690, 730), (690, 964.5)]:
    label(x, y, "Chromosome position")
for x, y in [(410, 249), (410, 484), (962.5, 249), (962.5, 483),
             (410, 741), (410, 975), (962.5, 742), (962.5, 976.5)]:
    label(x, y, "p12")

# ---- legend
leg_pos = [(67.5, 1017), (67.5, 1050), (67.5, 1082), (443, 1017), (443, 1050)]
for h, ((cx, cy), txt) in enumerate(zip(leg_pos, HYPOTHESES)):
    ov.scatter([cx], [cy], s=225, facecolor=H_FILL[h], edgecolor="#1e1e1e", linewidths=1.2,
               zorder=5, clip_on=False)
    ov.text(cx + 17, cy, txt, ha="left", va="center", fontsize=10.3, color=TXT_COL)

fig.savefig("out.png", dpi=DPI, facecolor="white")
